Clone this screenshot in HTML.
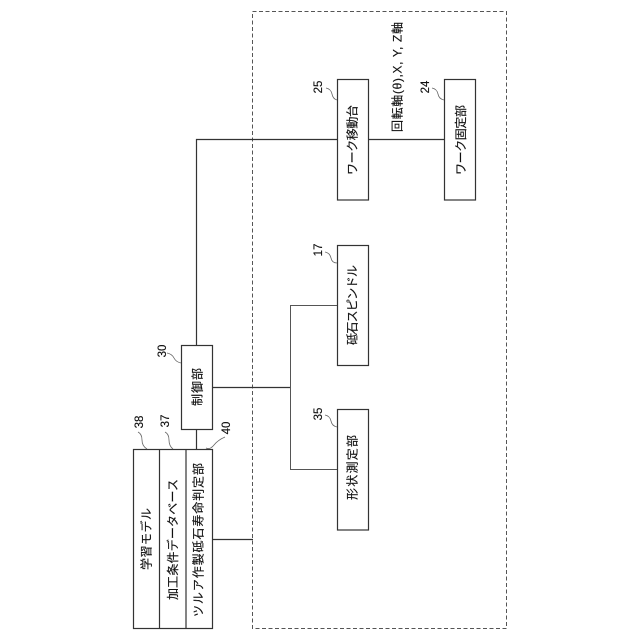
<!DOCTYPE html>
<html><head><meta charset="utf-8"><style>
html,body{margin:0;padding:0;background:#fff}
svg{display:block}
text{font-family:"Liberation Sans","Noto Sans CJK JP",sans-serif;fill:#111;stroke:#111;stroke-width:0.15}
</style></head><body>
<svg width="640" height="640" viewBox="0 0 640 640" xmlns="http://www.w3.org/2000/svg">
<rect x="252.500" y="11.500" width="254" height="617" fill="none" stroke="#555" stroke-width="1" stroke-dasharray="4 2.500"/>
<g fill="none" stroke="#333" stroke-width="1.200">
<path d="M196.500 345V139.500H337M368 139.500H444M212 387.500H290.500M196.500 429V449M212 539.500H253"/>
<rect x="337.500" y="79.500" width="31" height="120.500"/>
<rect x="444.500" y="79.500" width="31" height="120.500"/>
<rect x="337.500" y="245.500" width="31" height="120"/>
<rect x="337.500" y="409.500" width="31" height="120.500"/>
<rect x="181.500" y="345.500" width="31" height="84"/>
<rect x="133.500" y="449.500" width="79" height="179"/>
<path d="M159.500 449.500V629M186 449.500V629"/>
</g>
<path d="M337 305.500H290.500V469.500H337" fill="none" stroke="#555" stroke-width="1"/>
<g fill="none" stroke="#666" stroke-width="0.800">
<path d="M326 88Q331 89 332 94T337 100"/>
<path d="M432 88Q437 89 438 94T444 100"/>
<path d="M325 252Q330 253 331 258T337 263"/>
<path d="M325 415Q330 416 331 421T337 427"/>
<path d="M167 353Q172 354 174 358T181 363"/>
<path d="M138 432Q142 434 142 440T147 449"/>
<path d="M165 432Q169 434 169 440T173 449"/>
<path d="M225 437Q218 440 214 445T206 448"/>
</g>
<g font-size="12" text-anchor="middle" lengthAdjust="spacing">
<text transform="translate(356.500 140) rotate(-90)" textLength="70">ワーク移動台</text>
<text transform="translate(465 140) rotate(-90)" textLength="70">ワーク固定部</text>
<text transform="translate(356.500 305) rotate(-90)" textLength="80">砥石スピンドル</text>
<text transform="translate(356.500 467.500) rotate(-90)" textLength="65">形状測定部</text>
<text transform="translate(201.500 387) rotate(-90)" textLength="38">制御部</text>
<text transform="translate(150.500 539) rotate(-90)" textLength="62">学習モデル</text>
<text transform="translate(177 539.500) rotate(-90)" textLength="121">加工条件データベース</text>
<text transform="translate(202.500 540) rotate(-90)" textLength="154">ツルア作製砥石寿命判定部</text>
<text transform="translate(401.500 77) rotate(-90)" textLength="110">回転軸(θ),X, Y, Z軸</text>
</g>
<g font-size="11.500" text-anchor="middle">
<text transform="translate(322 87) rotate(-90)">25</text>
<text transform="translate(429 87) rotate(-90)">24</text>
<text transform="translate(322 250) rotate(-90)">17</text>
<text transform="translate(322 414) rotate(-90)">35</text>
<text transform="translate(166 351) rotate(-90)">30</text>
<text transform="translate(143 422) rotate(-90)">38</text>
<text transform="translate(169 421) rotate(-90)">37</text>
<text transform="translate(230 428) rotate(-90)">40</text>
</g>
</svg>
</body></html>
